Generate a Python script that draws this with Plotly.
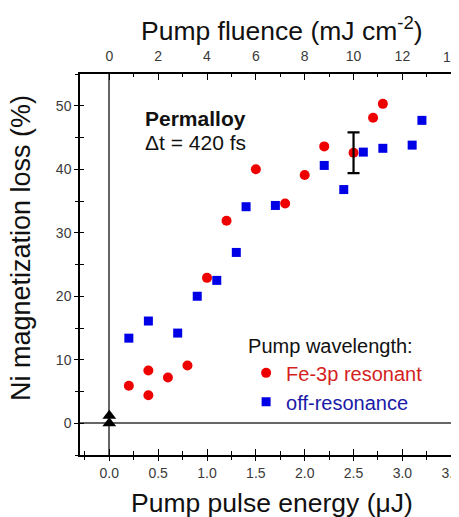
import plotly.graph_objects as go

# Data
res_energy = [0.2, 0.4, 0.4, 0.6, 0.8, 1.0, 1.2, 1.5, 1.8, 2.0, 2.2, 2.5, 2.7, 2.8]
res_loss = [5.9, 8.3, 4.4, 7.2, 9.1, 22.9, 31.9, 40.0, 34.6, 39.1, 43.6, 42.6, 48.1, 50.3]
off_energy = [0.2, 0.4, 0.7, 0.9, 1.1, 1.3, 1.4, 1.7, 2.2, 2.4, 2.6, 2.8, 3.1, 3.2]
off_loss = [13.4, 16.1, 14.2, 20.0, 22.5, 26.9, 34.1, 34.3, 40.6, 36.8, 42.7, 43.3, 43.8, 47.7]
err_energy = [2.5]
err_loss = [42.6]
err_size = [3.2]
ref_energy = [0.0, 0.0]
ref_loss = [0.0, 1.2]
fluence_per_uj = 4.0  # top axis: mJ cm^-2 per uJ
fluence_ticks = [0, 2, 4, 6, 8, 10, 12, 14]
fluence_minor = [1, 3, 5, 7, 9, 11, 13]

x_range = [-0.3, 3.6]
y_range = [-5, 55]

FONT = "Liberation Sans, Arial, sans-serif"

fig = go.Figure()

fig.add_trace(go.Scatter(
    x=res_energy, y=res_loss, mode="markers",
    name="<span style='color:#d41f1f'>Fe-3p resonant</span>",
    marker=dict(symbol="circle", size=10, color="#ee0000", line=dict(width=0)),
))
fig.add_trace(go.Scatter(
    x=off_energy, y=off_loss, mode="markers",
    name="<span style='color:#1a1aa8'>off-resonance</span>",
    marker=dict(symbol="square", size=9, color="#0000e6", line=dict(width=0)),
))
fig.add_trace(go.Scatter(
    x=err_energy, y=err_loss, mode="markers", showlegend=False,
    marker=dict(size=1, color="rgba(0,0,0,0)"),
    error_y=dict(type="data", array=err_size, visible=True, color="black",
                 thickness=2.2, width=6),
))
fig.add_trace(go.Scatter(
    x=ref_energy, y=ref_loss, mode="markers", showlegend=False,
    marker=dict(symbol="triangle-up", size=12, color="black"),
))
# empty traces to host the mirrored / tick-overlay axes
fig.add_trace(go.Scatter(x=[], y=[], xaxis="x2", yaxis="y2", showlegend=False))
fig.add_trace(go.Scatter(x=[], y=[], xaxis="x3", yaxis="y3", showlegend=False))

tickfont = dict(family=FONT, size=14, color="#3a3a3a")

fig.update_layout(
    width=459, height=517,
    margin=dict(l=72, r=6, t=66, b=70, autoexpand=False),
    paper_bgcolor="white", plot_bgcolor="white",
    font=dict(family=FONT, color="#111"),
    showlegend=True,
    legend=dict(
        x=0.436, y=0.335, xanchor="left", yanchor="top",
        bgcolor="rgba(0,0,0,0)",
        title=dict(text="Pump wavelength:", font=dict(family=FONT, size=20, color="#111")),
        font=dict(family=FONT, size=20),
        tracegroupgap=0, itemsizing="trace",
    ),
    xaxis=dict(
        range=x_range, showgrid=False, zeroline=True, zerolinecolor="#666",
        zerolinewidth=1.5, showline=True, linecolor="black", linewidth=1.5,
        ticks="outside", ticklen=4, tickwidth=1.2, tickcolor="black",
        dtick=0.5, tick0=0, tickformat=".1f", tickfont=tickfont,
        ticklabeloverflow="allow",
        minor=dict(ticks="outside", ticklen=3, dtick=0.25, tick0=0, tickcolor="black"),
    ),
    yaxis=dict(
        range=y_range, showgrid=False, zeroline=True, zerolinecolor="#666",
        zerolinewidth=1.5, showline=True, linecolor="black", linewidth=1.5,
        ticks="outside", ticklen=4, tickwidth=1.2, tickcolor="black",
        dtick=10, tick0=0, tickfont=tickfont,
        minor=dict(ticks="outside", ticklen=3, dtick=5, tick0=0, tickcolor="black"),
    ),
    xaxis2=dict(
        overlaying="x", side="top", anchor="y2",
        range=[x_range[0] * fluence_per_uj, x_range[1] * fluence_per_uj],
        showgrid=False, zeroline=False, showline=True, linecolor="black", linewidth=1.5,
        ticks="inside", ticklen=6, tickwidth=1.2, tickcolor="black",
        tickmode="array", tickvals=fluence_ticks[:-1],
        ticktext=[str(v) for v in fluence_ticks[:-1]],
        tickfont=tickfont, ticklabelstandoff=6,
        ticklabeloverflow="allow",
        minor=dict(ticks="inside", ticklen=3, tickmode="array",
                   tickvals=fluence_minor + fluence_ticks[-1:], tickcolor="black"),
    ),
    yaxis2=dict(
        overlaying="y", side="right", anchor="x2", range=y_range,
        showgrid=False, zeroline=False, showline=True, linecolor="black", linewidth=1.5,
        ticks="inside", ticklen=4, tickwidth=1.2, tickcolor="black",
        dtick=5, tick0=0, showticklabels=False,
    ),
    xaxis3=dict(
        overlaying="x", side="bottom", anchor="y3", range=x_range,
        showgrid=False, zeroline=False, showline=False, showticklabels=False,
        ticks="inside", ticklen=6, tickwidth=1.2, tickcolor="black", dtick=0.5, tick0=0,
        minor=dict(ticks="inside", ticklen=4, dtick=0.25, tick0=0, tickcolor="black"),
    ),
    yaxis3=dict(
        overlaying="y", side="left", anchor="x3", range=y_range,
        showgrid=False, zeroline=False, showline=False, showticklabels=False,
        ticks="inside", ticklen=4, tickwidth=1.2, tickcolor="black", dtick=10, tick0=0,
        minor=dict(ticks="inside", ticklen=4, dtick=5, tick0=0, tickcolor="black"),
    ),
    annotations=[
        dict(text="Pump pulse energy (\u03bcJ)", xref="paper", yref="paper",
             x=0.503, y=-0.126, xanchor="center", yanchor="middle", showarrow=False,
             font=dict(family=FONT, size=26.5, color="#111")),
        dict(text="Pump fluence (mJ cm<sup>-2</sup>)", xref="paper", yref="paper",
             x=0.529, y=1.118, xanchor="center", yanchor="middle", showarrow=False,
             font=dict(family=FONT, size=26.5, color="#111")),
        dict(text="Ni magnetization loss (%)", xref="paper", yref="paper",
             x=-0.155, y=0.543, xanchor="center", yanchor="middle", showarrow=False,
             textangle=-90, font=dict(family=FONT, size=27, color="#111")),
        dict(text="<b>Permalloy</b>", xref="paper", yref="paper",
             x=0.1646, y=0.882, xanchor="left", yanchor="middle", showarrow=False,
             font=dict(family=FONT, size=21, color="#111")),
        dict(text="\u0394t = 420 fs", xref="paper", yref="paper",
             x=0.1646, y=0.8215, xanchor="left", yanchor="middle", showarrow=False,
             font=dict(family=FONT, size=21, color="#111")),
        # last top-axis tick label (kept as text tied to the top axis scale)
        dict(text=str(fluence_ticks[-1]), xref="x2", yref="paper",
             x=fluence_ticks[-1], y=1, yshift=17, xanchor="center", yanchor="middle",
             showarrow=False, font=tickfont),
    ],
)

fig.write_html("out.html", config={"displayModeBar": False})
